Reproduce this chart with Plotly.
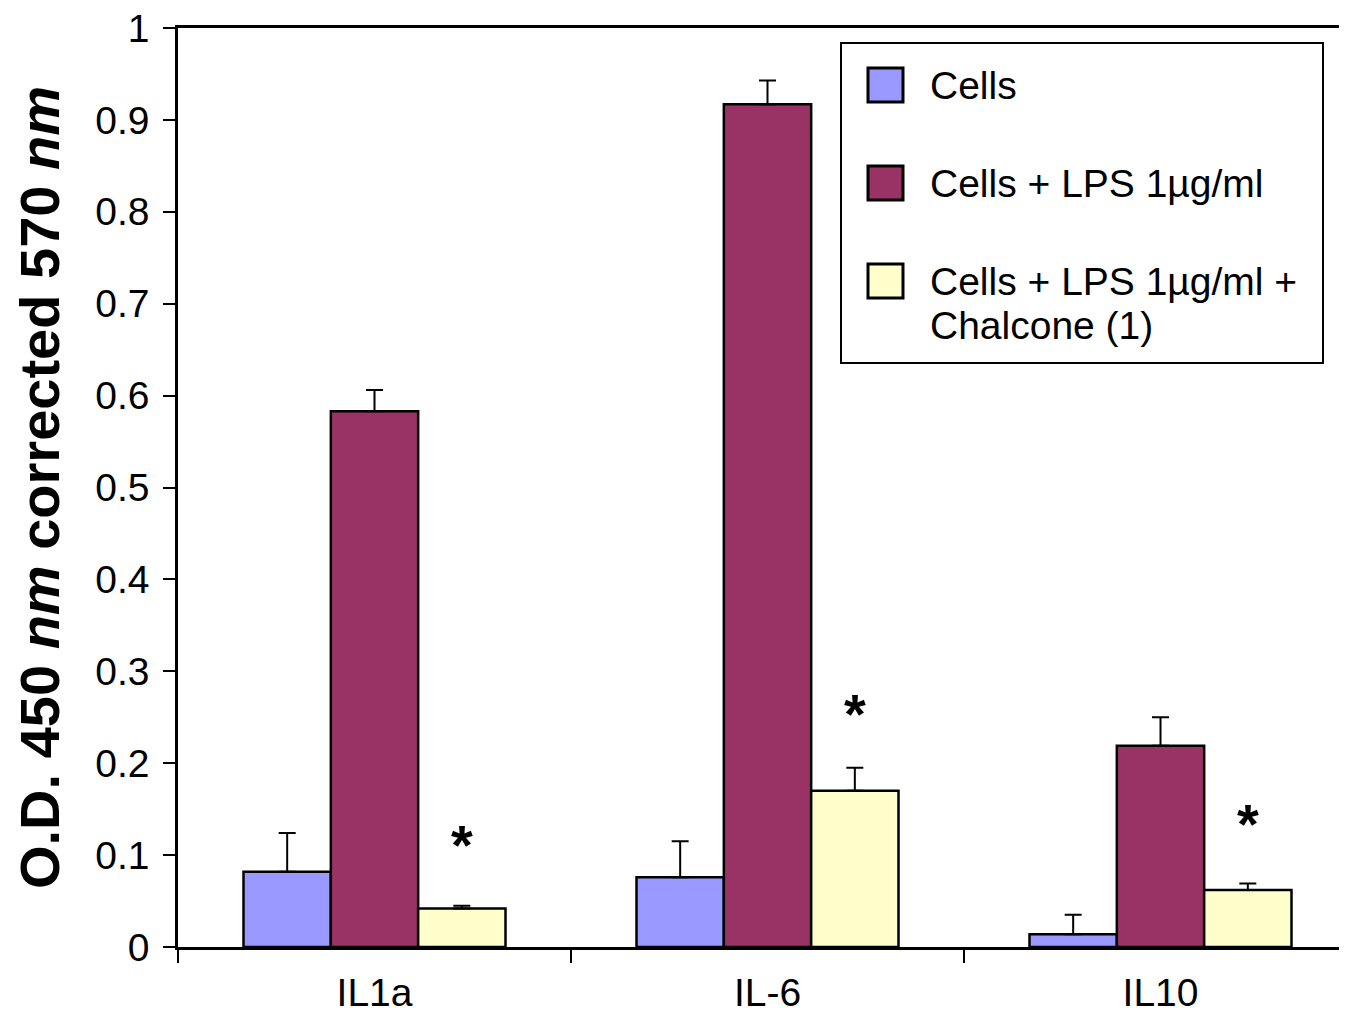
import plotly.graph_objects as go

categories = ["IL1a", "IL-6", "IL10"]
series_names = ["Cells", "Cells + LPS 1µg/ml", "Cells + LPS 1µg/ml +<br>Chalcone (1)"]
cells = [0.082, 0.076, 0.014]
cells_err = [0.042, 0.039, 0.021]
lps = [0.583, 0.917, 0.219]
lps_err = [0.023, 0.026, 0.031]
chalcone = [0.042, 0.170, 0.062]
chalcone_err = [0.003, 0.025, 0.007]
star_y = [0.112, 0.254, 0.134]
y_ticks = [0, 0.1, 0.2, 0.3, 0.4, 0.5, 0.6, 0.7, 0.8, 0.9, 1]
y_ticktext = ["0", "0.1", "0.2", "0.3", "0.4", "0.5", "0.6", "0.7", "0.8", "0.9", "1"]
colors = ["#9999FF", "#993366", "#FFFFCC"]

FONT = "Liberation Sans, Arial, Helvetica, sans-serif"
OFF = 8  # page body margin
W, H = 1347 - OFF, 1013 - OFF
ML, MT, MB, MR = 178 - OFF, 28 - OFF, 66, 0
bargap = 1 - 262 / 393

fig = go.Figure()
for vals, errs, col, name in zip([cells, lps, chalcone], [cells_err, lps_err, chalcone_err], colors, series_names):
    fig.add_trace(go.Bar(
        x=categories, y=vals, name=name,
        marker=dict(color=col, line=dict(color="black", width=2.5)),
        error_y=dict(type="data", array=errs, arrayminus=[0] * len(errs), symmetric=False,
                     color="black", thickness=2, width=8.5),
        showlegend=False,
    ))

# significance asterisks above the third bar of each group
bw = (1 - bargap) / 3
for i, yv in enumerate(star_y):
    fig.add_annotation(x=i + bw, y=yv, xref="x", yref="y", text="<b>*</b>", showarrow=False,
                       font=dict(family=FONT, size=56, color="black"), yanchor="middle")

# custom legend (positions given in screen pixels of the reference)
pw = W - ML - MR
ph = H - MT - MB
def px(x):
    return (x - OFF - ML) / pw
def py(y):
    return (H - MB - (y - OFF)) / ph

fig.add_shape(type="rect", xref="paper", yref="paper", x0=px(841), x1=px(1323), y0=py(363), y1=py(43),
              line=dict(color="black", width=2), fillcolor="white", layer="above")
centers = [85, 183, 281]
for c, col, name in zip(centers, colors, series_names):
    fig.add_shape(type="rect", xref="paper", yref="paper", x0=px(868), x1=px(903), y0=py(c + 17), y1=py(c - 17),
                  line=dict(color="black", width=3), fillcolor=col, layer="above")
    lines = name.split("<br>")
    for k, ln in enumerate(lines):
        fig.add_annotation(x=px(928), y=py(c + 44 * k), xref="paper", yref="paper", text=ln, showarrow=False,
                           xanchor="left", yanchor="middle", font=dict(family=FONT, size=39, color="black"))

fig.update_layout(
    width=W, height=H,
    margin=dict(l=ML, r=MR, t=MT, b=MB),
    paper_bgcolor="white", plot_bgcolor="white",
    barmode="group", bargap=bargap, bargroupgap=0,
    font=dict(family=FONT, size=39, color="black"),
)
fig.update_xaxes(
    type="category", range=[-0.5, 2.5 - 10 / 393],
    showline=True, linecolor="black", linewidth=2.5, mirror=True,
    ticks="outside", tickson="boundaries", ticklen=13, tickwidth=2, tickcolor="black",
    showgrid=False, zeroline=False,
    tickfont=dict(family=FONT, size=39, color="black"),
    ticklabelstandoff=9,
)
fig.update_yaxes(
    range=[0, 1], tickmode="array", tickvals=y_ticks, ticktext=y_ticktext,
    showline=True, linecolor="black", linewidth=2.5,
    ticks="outside", ticklen=12, tickwidth=2, tickcolor="black",
    showgrid=False, zeroline=False,
    tickfont=dict(family=FONT, size=39, color="black"),
    ticklabelstandoff=6, ticklabeloverflow="allow",
    title=dict(text="<b>O.D. 450 <i>nm</i> corrected 570 <i>nm</i></b>",
               font=dict(family=FONT, size=56, color="black"), standoff=30),
    automargin=False,
)

fig.write_html("out.html")
